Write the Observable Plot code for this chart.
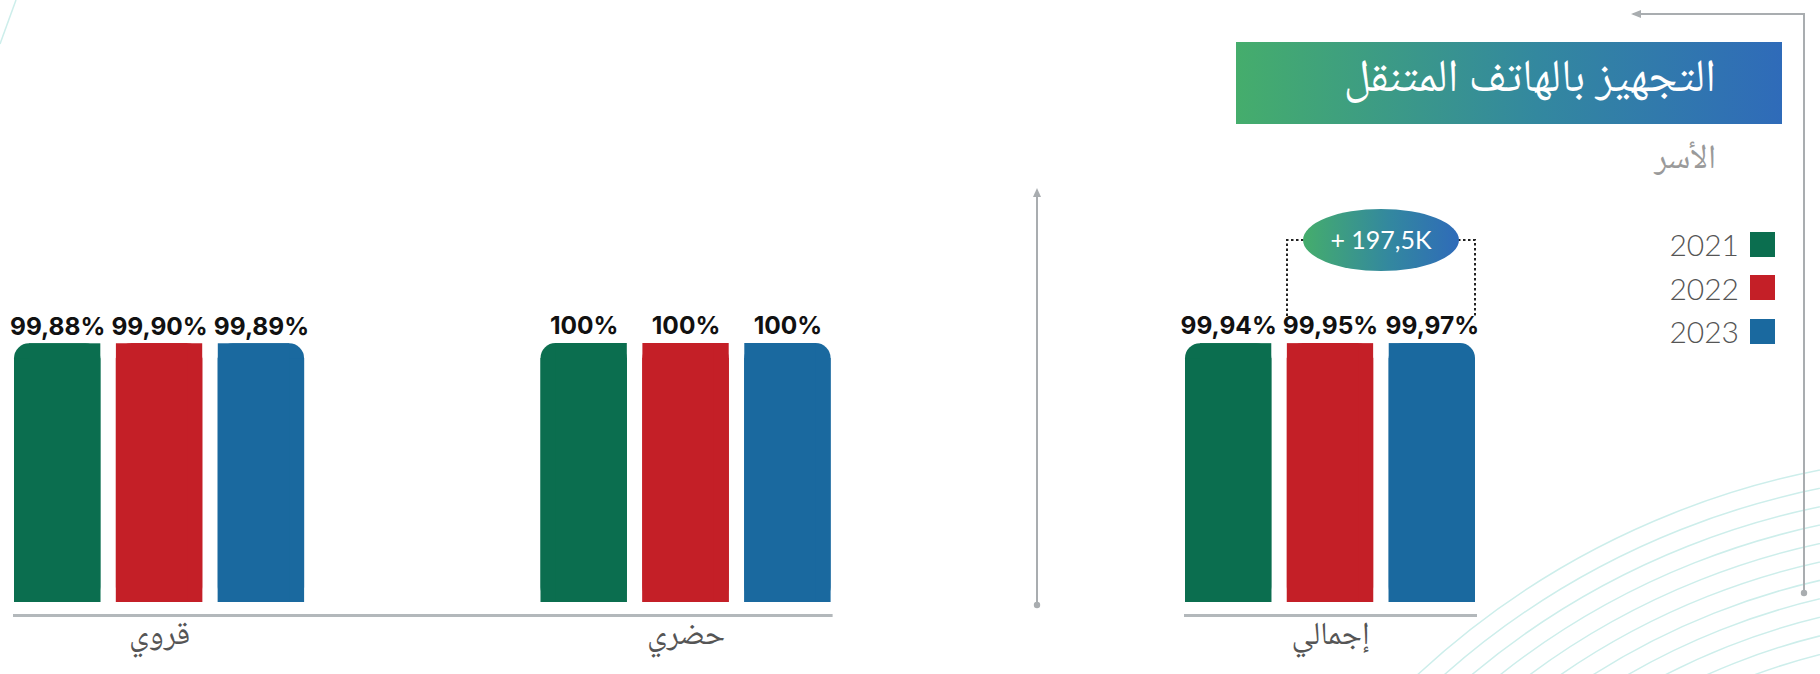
<!DOCTYPE html>
<html><head><meta charset="utf-8">
<script src="https://cdn.jsdelivr.net/npm/d3@7"></script>
<script src="https://cdn.jsdelivr.net/npm/@observablehq/plot@0.6"></script>
<style>
html,body{margin:0;padding:0;background:#fff;}
#root{position:relative;width:1820px;height:674px;overflow:hidden;background:#fff;}
#root > *{position:absolute;}
.ar{font-family:'Noto Naskh Arabic','Noto Sans Arabic','DejaVu Sans',sans-serif;}
</style></head><body><div id="root"></div>
<script>
// ---- data ----
const years = ["2021", "2022", "2023"];
const colors = ["#0b6e4f", "#c41f27", "#1a699f"];
const groupsLeft = ["قروي", "حضري"];
const groupsRight = ["إجمالي"];
const valuesRural = [99.88, 99.90, 99.89];
const valuesUrban = [100, 100, 100];
const valuesTotal = [99.94, 99.95, 99.97];
const title = "التجهيز بالهاتف المتنقل";
const subtitle = "الأسر";
const changeLabel = "+ 197,5K";

const rowsOf = (group, vals) => years.map((y, i) => ({group, year: y, value: vals[i]}));
const rowsLeft = [...rowsOf(groupsLeft[0], valuesRural), ...rowsOf(groupsLeft[1], valuesUrban)];
const rowsRight = rowsOf(groupsRight[0], valuesTotal);
const fmt = v => v === 100 ? "100%" : v.toFixed(2).replace(".", ",") + "%";

const root = document.getElementById("root");
const AR = "'Noto Naskh Arabic','Noto Sans Arabic','DejaVu Sans',sans-serif";
const R = 15;

// ---- decorations (background) ----
const deco = d3.select(root).append("svg")
  .attr("width", 1820).attr("height", 674)
  .style("left", "0px").style("top", "0px");
const defs = deco.append("defs");
const grad = defs.append("linearGradient").attr("id", "g1").attr("x1", "0").attr("x2", "1").attr("y1", "0").attr("y2", "0");
grad.append("stop").attr("offset", "0%").attr("stop-color", "#45ad6c");
grad.append("stop").attr("offset", "55%").attr("stop-color", "#33889f");
grad.append("stop").attr("offset", "100%").attr("stop-color", "#2f6bb9");
// arcs bottom-right
d3.range(822, 630, -18).forEach(r => {
  deco.append("circle").attr("cx", 1977).attr("cy", 1277).attr("r", r)
    .attr("fill", "none").attr("stroke", "#cdeeeb").attr("stroke-width", 1.5);
});
deco.append("path").attr("d", "M0,44 Q8,22 16,0").attr("fill", "none").attr("stroke", "#cdeeeb").attr("stroke-width", 1.5);
// separator
deco.append("line").attr("x1", 1037).attr("x2", 1037).attr("y1", 190).attr("y2", 604).attr("stroke", "#a9adb0").attr("stroke-width", 2);
deco.append("path").attr("d", "M1033,197 L1037,188 L1041,197 Z").attr("fill", "#a9adb0");
deco.append("circle").attr("cx", 1037).attr("cy", 605).attr("r", 3.2).attr("fill", "#a9adb0");
// frame right
deco.append("path").attr("d", "M1633,14 H1804 V592").attr("fill", "none").attr("stroke", "#a9adb0").attr("stroke-width", 2);
deco.append("path").attr("d", "M1641,10 L1631,14 L1641,18 Z").attr("fill", "#a9adb0");
deco.append("circle").attr("cx", 1804).attr("cy", 593).attr("r", 3.2).attr("fill", "#a9adb0");
// bracket + ellipse
deco.append("path").attr("d", "M1287,316 V240 H1304 M1458,240 H1475 V316")
  .attr("fill", "none").attr("stroke", "#222").attr("stroke-width", 2).attr("stroke-dasharray", "2.5,2.5");
deco.append("ellipse").attr("cx", 1381).attr("cy", 240).attr("rx", 78).attr("ry", 31).attr("fill", "url(#g1)");
deco.append("text").attr("x", 1381).attr("y", 240).attr("dy", "0.35em").attr("text-anchor", "middle")
  .attr("fill", "#fff").attr("font-family", "Lato, Inter, sans-serif").attr("font-size", 25).text(changeLabel);

// ---- charts ----
function makeChart(groups, rows, width, left, right, fxPad) {
  const base = {fx: "group", x: "year", y: "value", fill: "year"};
  return Plot.plot({
    width, height: 674,
    marginLeft: left, marginRight: right, marginTop: 343, marginBottom: 72,
    style: {background: "transparent", overflow: "visible"},
    fx: {domain: groups, paddingInner: fxPad, paddingOuter: 0, round: false, axis: null, label: null},
    x: {domain: years, paddingInner: 0.153, paddingOuter: 0, round: false, axis: null, label: null},
    y: {domain: [0, 100], axis: null},
    color: {domain: years, range: colors},
    marks: [
      Plot.barY(rows, {...base, rx: R}),
      Plot.barY(rows, {...base, insetTop: R}),
      Plot.barY(rows.filter(d => d.year !== years[2]), {...base, insetLeft: R}),
      Plot.barY(rows.filter(d => d.year !== years[0]), {...base, insetRight: R}),
      Plot.frame({anchor: "bottom", facet: "super", dy: 13, stroke: "#b3b8bb", strokeWidth: 3}),
      Plot.text(rows, {fx: "group", x: "year", y: "value", text: d => fmt(d.value), dy: -17,
        fontSize: 24.5, fontWeight: 700, fill: "#111", fontFamily: "Inter, Lato, sans-serif"}),
      Plot.text(groups, {fx: d => d, text: d => d, frameAnchor: "bottom", dy: 41,
        fontSize: 32, fill: "#555", fontFamily: AR})
    ]
  });
}
const left = makeChart(groupsLeft, rowsLeft, 860, 14, 860 - 830.6, 0.449);
left.style.left = "0px"; left.style.top = "0px";
root.appendChild(left);
const right = makeChart(groupsRight, rowsRight, 420, 85, 45, 0);
right.style.left = "1100px"; right.style.top = "0px";
root.appendChild(right);

// ---- title / subtitle / legend ----
const tbox = document.createElement("div");
tbox.className = "ar";
Object.assign(tbox.style, {left: "1236px", top: "42px", width: "546px", height: "82px",
  background: "linear-gradient(to right, #45ad6c 0%, #33889f 55%, #2f6bb9 100%)",
  color: "#fff", fontSize: "46px", lineHeight: "78px", textAlign: "right", direction: "rtl",
  paddingRight: "66px", boxSizing: "border-box", whiteSpace: "nowrap"});
tbox.textContent = title;
root.appendChild(tbox);

const sub = document.createElement("div");
sub.className = "ar";
Object.assign(sub.style, {left: "1500px", top: "138px", width: "216px", fontSize: "34px",
  lineHeight: "46px", color: "#9a9a9a", textAlign: "right", direction: "rtl"});
sub.textContent = subtitle;
root.appendChild(sub);

years.forEach((y, i) => {
  const cy = 244 + i * 43.5;
  const t = document.createElement("div");
  Object.assign(t.style, {left: "1600px", top: (cy - 20) + "px", width: "139px", textAlign: "right",
    fontFamily: "Lato, 'Open Sans', sans-serif", fontWeight: "300", fontSize: "30px", lineHeight: "40px", color: "#555"});
  t.textContent = y;
  root.appendChild(t);
  const sq = document.createElement("div");
  Object.assign(sq.style, {left: "1750px", top: (cy - 12.5) + "px", width: "25px", height: "25px", background: colors[i]});
  root.appendChild(sq);
});
</script></body></html>
